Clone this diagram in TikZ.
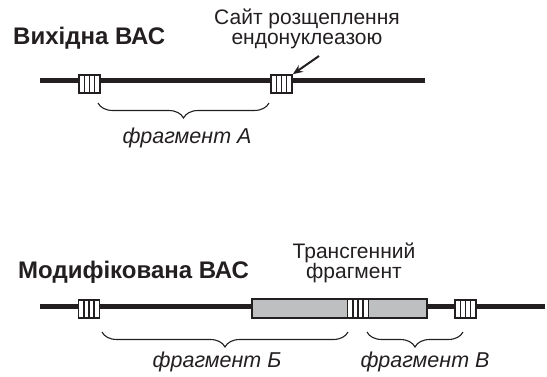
\documentclass[tikz,border=0pt]{standalone}
\usepackage{fontspec}
\setmainfont{Liberation Sans}
\usetikzlibrary{decorations.pathreplacing,arrows.meta}
\definecolor{tgray}{RGB}{190,191,193}
\definecolor{ink}{RGB}{35,31,32}
\tikzset{
  dna/.style={line width=5.5pt, draw=ink},
  site/.style={draw=ink, line width=1.6pt, fill=white, minimum width=21pt, minimum height=18pt, inner sep=0pt,
    path picture={\foreach \k in {-5,0,5}{\draw[line width=1.6pt, ink] ([xshift=\k pt]path picture bounding box.north) -- ([xshift=\k pt]path picture bounding box.south);}}},
  tbox/.style={draw=ink, line width=1.5pt, fill=tgray, inner sep=0pt},
  brc/.style={draw=ink, line width=1.1pt, decorate, decoration={brace, mirror, amplitude=15pt}},
  head/.style={font=\fontsize{24}{26}\selectfont\bfseries, text=ink, anchor=base west, inner sep=0pt},
  lbl/.style={font=\fontsize{21}{20}\selectfont, text=ink, align=center, inner sep=0pt},
  flbl/.style={font=\fontsize{21.5}{22}\selectfont\itshape, text=ink, inner sep=0pt},
}
\begin{document}
\begin{tikzpicture}[x=1pt, y=-1pt]
\useasboundingbox (0,0) rectangle (547,377);
% top
\node[head] (h1) at (13,45) {Вихідна ВАС};
\coordinate (t0) at (40,80.5);
\coordinate (t1) at (425,80.5);
\draw[dna] (t0) -- (t1);
\node[site] (s1) at (89.5,84) {};
\node[site] (s2) at (281.5,84) {};
\coordinate (ba0) at (98,103);
\coordinate (ba1) at (269,103);
\draw[brc] (ba0) -- (ba1);
\node[flbl] (fa) at (187,138) {фрагмент А};
\node[lbl] (cut) at (307,29) {Сайт розщеплення\\ендонуклеазою};
\coordinate (arrtail) at (319,56);
\draw[ink, line width=2pt, -{Stealth[length=10pt,width=8pt]}] (arrtail) -- (s2.north east);
% bottom
\node[head] (h2) at (18,279) {Модифікована ВАС};
\coordinate (m0) at (40,306.5);
\coordinate (m1) at (545,306.5);
\draw[dna] (m0) -- (m1);
\node[tbox, minimum width=175pt, minimum height=19pt] (tg) at (339.5,308.5) {};
\node[site] (b1) at (89,309) {};
\node[site, minimum height=19pt] (b2) at (358,308.5) {};
\node[site] (b3) at (465.5,309) {};
\node[lbl] (tgl) at (354,263) {Трансгенний\\фрагмент};
\coordinate (bb0) at (102,332);
\coordinate (bb1) at (348,332);
\draw[brc] (bb0) -- (bb1);
\coordinate (bv0) at (367,332);
\coordinate (bv1) at (463,332);
\draw[brc] (bv0) -- (bv1);
\node[flbl] (fb) at (217,362) {фрагмент Б};
\node[flbl] (fv) at (425,362) {фрагмент В};
\end{tikzpicture}
\end{document}
